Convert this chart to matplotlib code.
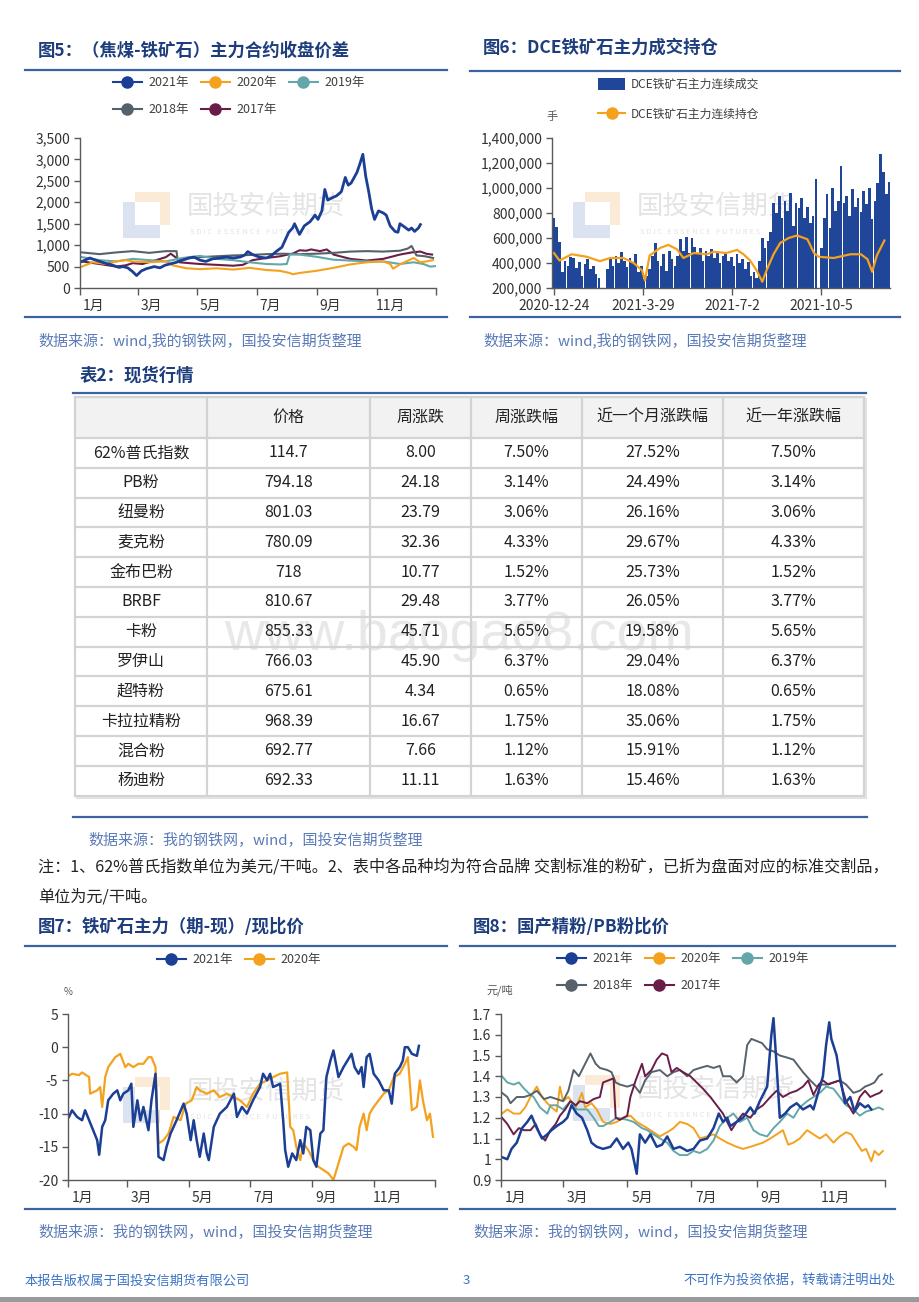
import numpy as np
import matplotlib
matplotlib.use("Agg")
import matplotlib.pyplot as plt
from matplotlib.lines import Line2D
from matplotlib.patches import Rectangle
from matplotlib.ticker import FuncFormatter

plt.rcParams['font.family'] = ['Noto Sans CJK SC', 'DejaVu Sans']
plt.rcParams['axes.unicode_minus'] = False

# ---------------- data ----------------
month_edges = [0, 59, 120, 181, 243, 304, 365]
month_labels = ['1月', '3月', '5月', '7月', '9月', '11月']
year_labels = ['2021年', '2020年', '2019年', '2018年', '2017年']

# fig5: coking coal - iron ore spread (day of year, value)
f5_d21 = [2, 10, 16, 23, 27, 30, 35, 40, 44, 49, 54, 58, 63, 68, 73, 76, 82, 87, 92, 99,
          105, 112, 117, 123, 129, 136, 143, 150, 157, 164, 169, 172, 177, 184, 191, 196, 201, 207, 210, 212,
          214, 218, 220, 223, 225, 230, 236, 241, 244, 248, 251, 254, 258, 263, 268, 272, 275, 278, 284, 287,
          290, 293, 296, 299, 302, 306, 311, 314, 318, 323, 326, 328, 333, 337, 340, 343, 347, 349]
f5_v21 = [620, 700, 650, 600, 570, 560, 520, 480, 500, 470, 380, 290, 400, 450, 480, 500, 470, 530, 560, 600,
          650, 700, 720, 650, 620, 680, 700, 720, 700, 720, 770, 850, 780, 720, 700, 750, 850, 950, 1100, 1200,
          1300, 1400, 1500, 1350, 1250, 1450, 1550, 1700, 1600, 1800, 2300, 2050, 2100, 2150, 2250, 2580, 2400, 2450, 2700, 2900,
          3120, 2600, 2250, 1850, 1600, 1800, 1750, 1700, 1450, 1320, 1300, 1500, 1420, 1350, 1400, 1320, 1400, 1480]
f5_d20 = [2, 13, 27, 37, 47, 54, 71, 88, 95, 109, 123, 140, 157, 174, 191, 205, 215, 218, 225, 242,
          260, 277, 294, 311, 318, 321, 328, 342, 349, 355, 362]
f5_v20 = [500, 600, 560, 620, 650, 620, 600, 620, 530, 460, 440, 460, 430, 470, 420, 400, 350, 320, 350, 400,
          470, 550, 600, 620, 560, 450, 550, 700, 600, 620, 650]
f5_d19 = [2, 20, 37, 54, 71, 88, 105, 123, 140, 157, 174, 191, 205, 212, 215, 225, 242, 260, 277, 294,
          311, 328, 342, 352, 359, 364]
f5_v19 = [720, 650, 620, 680, 650, 620, 700, 750, 680, 650, 600, 560, 550, 560, 780, 780, 730, 660, 640, 620,
          620, 560, 600, 560, 500, 510]
f5_d18 = [2, 20, 37, 54, 71, 88, 99, 100, 109, 123, 140, 157, 174, 191, 208, 225, 242, 260, 277, 294,
          311, 328, 336, 340, 345, 354, 362]
f5_v18 = [830, 790, 830, 860, 820, 860, 860, 660, 700, 720, 740, 760, 770, 790, 800, 790, 800, 820, 850, 860,
          850, 870, 920, 980, 760, 740, 700]
f5_d17 = [2, 20, 37, 47, 54, 64, 78, 88, 93, 99, 102, 112, 123, 140, 157, 167, 177, 191, 205, 213,
          218, 225, 232, 237, 246, 253, 260, 277, 294, 311, 328, 340, 349, 355, 361]
f5_v17 = [620, 560, 500, 530, 580, 560, 650, 720, 800, 700, 600, 580, 560, 540, 520, 540, 650, 700, 740, 780,
          800, 880, 870, 900, 860, 900, 780, 680, 640, 680, 780, 830, 850, 800, 780]

# fig6: DCE iron ore volume / open interest (days from 2020-12-24, thousand lots)
f6_ticks = [0, 95, 190, 285]
f6_tick_labels = ['2020-12-24', '2021-3-29', '2021-7-2', '2021-10-5']
f6_vol = [760, 690, 570, 330, 420, 380, 450, 440, 360, 410,
          300, 390, 430, 350, 380, 310, 280, 0, 0, 350,
          430, 380, 460, 400, 490, 420, 370, 440, 400, 470,
          330, 380, 270, 300, 350, 460, 560, 420, 380, 470,
          340, 500, 430, 380, 460, 590, 500, 610, 480, 600,
          530, 470, 520, 420, 500, 460, 510, 440, 480, 400,
          460, 490, 420, 450, 380, 470, 400, 430, 350, 410,
          300, 330, 280, 420, 600, 520, 580, 650, 880, 800,
          940, 760, 900, 820, 960, 700, 880, 840, 920, 760,
          850, 720, 780, 1070, 0, 520, 760, 950, 680, 1000,
          820, 900, 1175, 880, 940, 780, 990, 850, 920, 810,
          980, 870, 1000, 750, 900, 1040, 1270, 1130, 950, 1050]
f6_vol_day = np.arange(0, 360, 3)
f6_oi_day = [0, 6, 19, 35, 49, 60, 74, 85, 94, 97, 102, 113, 122, 131, 138, 149, 163, 170, 184, 195,
             202, 209, 216, 222, 227, 234, 241, 250, 259, 270, 277, 282, 298, 316, 327, 334, 339, 344, 352]
f6_oi = [480, 420, 470, 450, 415, 440, 440, 400, 340, 260, 460, 520, 545, 510, 440, 480, 470, 490, 480, 505,
         470, 420, 340, 250, 350, 470, 560, 600, 620, 590, 480, 450, 440, 470, 470, 430, 330, 460, 580]

# table 2
tbl_header = ['', '价格', '周涨跌', '周涨跌幅', '近一个月涨跌幅', '近一年涨跌幅']
tbl_names = ['62%普氏指数', 'PB粉', '纽曼粉', '麦克粉', '金布巴粉', 'BRBF', '卡粉', '罗伊山',
             '超特粉', '卡拉拉精粉', '混合粉', '杨迪粉']
tbl_price = ['114.7', '794.18', '801.03', '780.09', '718', '810.67', '855.33', '766.03',
             '675.61', '968.39', '692.77', '692.33']
tbl_wk = ['8.00', '24.18', '23.79', '32.36', '10.77', '29.48', '45.71', '45.90',
          '4.34', '16.67', '7.66', '11.11']
tbl_wk_pct = ['7.50%', '3.14%', '3.06%', '4.33%', '1.52%', '3.77%', '5.65%', '6.37%',
              '0.65%', '1.75%', '1.12%', '1.63%']
tbl_mo_pct = ['27.52%', '24.49%', '26.16%', '29.67%', '25.73%', '26.05%', '19.58%', '29.04%',
              '18.08%', '35.06%', '15.91%', '15.46%']
tbl_yr_pct = ['7.50%', '3.14%', '3.06%', '4.33%', '1.52%', '3.77%', '5.65%', '6.37%',
              '0.65%', '1.75%', '1.12%', '1.63%']

# fig7: (futures - spot) / spot, %
f7_d21 = [1, 4, 9, 14, 17, 21, 25, 29, 31, 34, 37, 40, 45, 49, 52, 55, 60, 63, 65, 69,
          72, 75, 80, 83, 87, 90, 95, 98, 102, 105, 108, 115, 118, 122, 125, 128, 131, 135, 138, 140,
          145, 151, 158, 165, 168, 173, 178, 184, 191, 194, 198, 201, 204, 211, 214, 216, 219, 223, 227, 231,
          234, 237, 241, 244, 247, 251, 254, 257, 261, 264, 269, 274, 282, 285, 289, 292, 294, 297, 300, 304,
          309, 314, 319, 322, 325, 330, 333, 335, 338, 342, 347, 349]
f7_v21 = [-10.5, -9.5, -10.5, -11, -9.5, -11, -12.5, -14, -16.2, -12, -11, -8, -7, -6.5, -8, -7, -6.5, -5.5, -12, -8,
          -11, -9, -12.5, -8, -4, -16.5, -17, -15, -13, -12, -11, -8.5, -10, -14, -11, -14, -16.5, -13, -16, -17,
          -12, -10, -9, -7, -10.5, -9, -10, -8, -6, -4, -5, -4, -6, -5.5, -11, -15.5, -18, -16, -17, -14,
          -16, -12, -12.5, -17, -18, -13, -12.5, -4.5, -2, -0.5, -4.5, -3, -1, -3, -4, -3, -6, -1.5, -1, -4,
          -5, -6.5, -6.5, -8.5, -4, -3, -2, 0, 0, -1, -1.3, 0.2]
f7_d20 = [1, 4, 11, 14, 21, 22, 29, 32, 34, 37, 40, 47, 52, 57, 60, 65, 70, 75, 80, 83,
          87, 90, 95, 100, 105, 112, 117, 123, 128, 131, 138, 145, 151, 158, 165, 171, 178, 184, 191, 198,
          204, 211, 218, 221, 224, 227, 231, 234, 239, 244, 249, 254, 259, 264, 269, 274, 279, 284, 287, 290,
          294, 297, 300, 304, 309, 314, 319, 324, 330, 335, 338, 342, 347, 350, 353, 357, 360, 363]
f7_v20 = [-4.3, -4, -4.2, -3.8, -4.5, -7, -6.5, -6, -9, -4.5, -3, -1.5, -1, -3, -2.5, -3, -2.5, -2.5, -1.5, -1.5,
          -3, -14.5, -14, -13, -10.5, -11, -8.5, -8, -6, -6.5, -7, -6.5, -7.5, -7, -7.5, -8, -9, -7, -5.5, -5,
          -4.5, -4, -3.8, -12, -12.5, -15, -17, -14.5, -15.5, -17, -18, -18.5, -19, -20, -17.5, -15, -14.5, -15, -15.5, -12,
          -10, -12.5, -10, -9, -8, -7, -6.5, -4.5, -4, -2.5, -1.5, -9.5, -9, -5, -8, -11, -10, -13.5]

# fig8: domestic concentrate / PB fines price ratio
f8_d21 = [1, 6, 10, 15, 20, 25, 29, 34, 39, 44, 48, 53, 59, 63, 67, 72, 77, 82, 86, 91,
          97, 104, 110, 116, 121, 124, 129, 132, 137, 142, 148, 153, 158, 164, 170, 177, 183, 189, 196, 202,
          207, 211, 215, 218, 224, 230, 237, 241, 246, 253, 257, 259, 262, 265, 270, 275, 281, 287, 294, 297,
          302, 306, 309, 312, 314, 319, 322, 327, 332, 336, 341, 346, 349, 352]
f8_v21 = [1.01, 1.00, 1.05, 1.08, 1.15, 1.18, 1.21, 1.15, 1.10, 1.12, 1.14, 1.16, 1.18, 1.20, 1.26, 1.22, 1.20, 1.14, 1.08, 1.06,
          1.05, 1.06, 1.10, 1.05, 1.08, 1.05, 0.93, 1.12, 1.08, 1.12, 1.06, 1.07, 1.11, 1.05, 1.06, 1.04, 1.05, 1.09, 1.10, 1.15,
          1.22, 1.18, 1.20, 1.16, 1.18, 1.20, 1.25, 1.22, 1.28, 1.35, 1.60, 1.68, 1.45, 1.20, 1.22, 1.25, 1.27, 1.24, 1.26, 1.24,
          1.33, 1.40, 1.55, 1.66, 1.58, 1.50, 1.40, 1.27, 1.30, 1.23, 1.27, 1.25, 1.26, 1.24]
f8_d20 = [1, 6, 12, 18, 23, 28, 34, 39, 44, 48, 53, 56, 59, 64, 71, 77, 80, 86, 91, 97,
          104, 110, 116, 123, 129, 139, 145, 151, 158, 164, 170, 177, 183, 189, 196, 202, 208, 215, 224, 230,
          237, 243, 249, 256, 262, 268, 273, 278, 284, 291, 297, 303, 309, 316, 322, 328, 333, 338, 343, 347,
          352, 355, 359, 363]
f8_v20 = [1.22, 1.24, 1.22, 1.22, 1.25, 1.30, 1.35, 1.30, 1.27, 1.25, 1.23, 1.35, 1.28, 1.30, 1.25, 1.32, 1.25, 1.27, 1.24, 1.18,
          1.17, 1.18, 1.20, 1.21, 1.18, 1.15, 1.13, 1.11, 1.13, 1.15, 1.18, 1.17, 1.15, 1.10, 1.11, 1.12, 1.10, 1.08, 1.06, 1.05,
          1.06, 1.07, 1.08, 1.10, 1.12, 1.14, 1.07, 1.08, 1.10, 1.14, 1.12, 1.10, 1.12, 1.08, 1.11, 1.13, 1.12, 1.08, 1.04, 1.05,
          0.99, 1.04, 1.02, 1.04]
f8_d19 = [1, 6, 12, 17, 22, 26, 31, 37, 44, 47, 53, 59, 66, 72, 82, 88, 93, 97, 104, 110,
          120, 126, 134, 139, 145, 151, 158, 164, 170, 177, 183, 189, 196, 202, 208, 215, 221, 227, 234, 240,
          246, 253, 259, 265, 272, 278, 284, 291, 297, 303, 309, 316, 322, 328, 335, 341, 347, 354, 359, 363]
f8_v19 = [1.40, 1.37, 1.36, 1.37, 1.34, 1.32, 1.30, 1.25, 1.22, 1.26, 1.26, 1.24, 1.28, 1.24, 1.24, 1.20, 1.16, 1.16, 1.18, 1.20,
          1.19, 1.18, 1.15, 1.14, 1.12, 1.10, 1.08, 1.04, 1.02, 1.02, 1.04, 1.03, 1.05, 1.09, 1.16, 1.20, 1.22, 1.18, 1.20, 1.14,
          1.12, 1.11, 1.15, 1.18, 1.22, 1.20, 1.25, 1.28, 1.30, 1.32, 1.35, 1.34, 1.30, 1.26, 1.24, 1.21, 1.23, 1.24, 1.25, 1.24]
f8_d18 = [1, 6, 9, 15, 22, 28, 34, 41, 47, 53, 59, 64, 69, 74, 78, 85, 90, 94, 101, 105,
          109, 113, 120, 126, 132, 137, 143, 151, 158, 164, 170, 177, 183, 189, 196, 202, 208, 211, 218, 224,
          230, 234, 238, 243, 248, 253, 259, 265, 272, 278, 281, 287, 294, 300, 305, 309, 316, 322, 328, 335,
          341, 346, 351, 355, 359, 362]
f8_v18 = [1.32, 1.30, 1.27, 1.30, 1.30, 1.31, 1.33, 1.29, 1.30, 1.29, 1.28, 1.33, 1.43, 1.40, 1.44, 1.51, 1.46, 1.44, 1.43, 1.42,
          1.37, 1.36, 1.35, 1.36, 1.32, 1.38, 1.42, 1.43, 1.40, 1.42, 1.43, 1.40, 1.43, 1.44, 1.45, 1.44, 1.45, 1.40, 1.40, 1.37,
          1.40, 1.55, 1.58, 1.57, 1.56, 1.53, 1.52, 1.50, 1.49, 1.48, 1.46, 1.42, 1.38, 1.35, 1.36, 1.36, 1.37, 1.38, 1.36, 1.32,
          1.33, 1.35, 1.36, 1.37, 1.40, 1.41]
f8_d17 = [1, 6, 12, 17, 22, 28, 33, 37, 42, 47, 52, 56, 61, 66, 71, 75, 82, 88, 94, 97,
          102, 107, 109, 113, 120, 123, 128, 134, 137, 143, 148, 153, 158, 162, 167, 173, 180, 186, 192, 199,
          205, 211, 215, 219, 224, 230, 237, 243, 249, 256, 262, 268, 275, 281, 287, 292, 297, 302, 306, 311,
          316, 322, 328, 335, 341, 346, 351, 355, 360, 362]
f8_v17 = [1.20, 1.17, 1.12, 1.15, 1.14, 1.14, 1.17, 1.12, 1.09, 1.14, 1.17, 1.21, 1.24, 1.28, 1.26, 1.28, 1.27, 1.29, 1.30, 1.37,
          1.38, 1.39, 1.20, 1.19, 1.21, 1.30, 1.38, 1.46, 1.40, 1.43, 1.48, 1.51, 1.50, 1.42, 1.44, 1.42, 1.40, 1.37, 1.34, 1.30,
          1.26, 1.22, 1.18, 1.14, 1.18, 1.22, 1.20, 1.24, 1.26, 1.30, 1.33, 1.30, 1.32, 1.33, 1.35, 1.38, 1.31, 1.36, 1.38, 1.36,
          1.37, 1.38, 1.28, 1.22, 1.30, 1.33, 1.30, 1.31, 1.32, 1.33]

# ---------------- style ----------------
C21 = '#1b3f94'
C20 = '#f4a21d'
C19 = '#63a7aa'
C18 = '#56626b'
C17 = '#6a1e47'
BAR_C = '#1f4699'
TITLE_C = '#1d3d7c'
RULE_C = '#3b62a3'
SRC_C = '#5a7bb8'
AX_C = '#5a5a5a'
year_colors = [C21, C20, C19, C18, C17]

W, H = 920, 1302
fig = plt.figure(figsize=(W / 100, H / 100), dpi=100)


def px_ax(l, t, r, b):
    ax = fig.add_axes([l / W, 1 - b / H, (r - l) / W, (b - t) / H])
    ax.patch.set_alpha(0)
    return ax


def ftext(x, y, s, **kw):
    return fig.text(x / W, 1 - y / H, s, **kw)


def rule(x0, x1, y, color=RULE_C, lw=1.6):
    fig.add_artist(Line2D([x0 / W, x1 / W], [1 - y / H, 1 - y / H], color=color, lw=lw))


def frect(l, t, w, h, c, z=-5):
    fig.add_artist(Rectangle((l / W, 1 - (t + h) / H), w / W, h / H, transform=fig.transFigure,
                             facecolor=c, lw=0, zorder=z))


def watermark(x, y):
    frect(x + 12, y, 35, 33, '#fbead6')
    frect(x, y + 10, 37, 36, '#dae3ef')
    frect(x + 12, y + 10, 25, 23, 'white')
    ftext(x + 64, y + 14, '国投安信期货', fontsize=19, color='#e4e4e4', va='center', zorder=-4)
    ftext(x + 67, y + 40, 'S D I C   E S S E N C E   F U T U R E S', fontsize=5.5,
          color='#e4e4e4', va='center', zorder=-4)


def section(x, y, title, x0, x1, y1, y2, src, ysrc):
    ftext(x, y, title, fontsize=12.5, fontweight='bold', color=TITLE_C, va='center')
    rule(x0, x1, y1)
    rule(x0, x1, y2)
    ftext(x, ysrc, src, fontsize=10.8, color=SRC_C, va='center')


def style(ax):
    ax.spines['top'].set_visible(False)
    ax.spines['right'].set_visible(False)
    for s in ('left', 'bottom'):
        ax.spines[s].set_color(AX_C)
        ax.spines[s].set_linewidth(1.0)
    ax.tick_params(axis='both', which='both', colors=AX_C, labelcolor='#333333', labelsize=10, width=1.0)
    ax.tick_params(axis='y', length=4, pad=3)


def month_axis(ax):
    ax.set_xlim(0, 365)
    ax.set_xticks(month_edges)
    ax.set_xticklabels([])
    ax.set_xticks([m + 14 for m in month_edges[:-1]], minor=True)
    ax.set_xticklabels(month_labels, minor=True)
    ax.tick_params(axis='x', which='major', length=5)
    ax.tick_params(axis='x', which='minor', length=0, pad=8)


def year_legend(ax, x, y, n):
    hs = [Line2D([], [], color=c, lw=1.5, marker='o', markersize=8) for c in year_colors[:n]]
    labs = year_labels[:n]
    if n == 5:
        order = [0, 3, 1, 4, 2]
        hs = [hs[i] for i in order]
        labs = [labs[i] for i in order]
    ax.legend(hs, labs, ncol=3 if n == 5 else 2, loc='upper left', bbox_to_anchor=(x / W, 1 - y / H),
              bbox_transform=fig.transFigure, frameon=False, fontsize=9, handlelength=2.3,
              handletextpad=0.5, columnspacing=1.0, labelspacing=1.15, borderpad=0, borderaxespad=0,
              labelcolor='#404040')


comma = FuncFormatter(lambda v, p: f'{v:,.0f}')

# ---------------- fig5 ----------------
section(38, 51, '图5：（焦煤-铁矿石）主力合约收盘价差', 25, 447, 70, 317,
        '数据来源：wind,我的钢铁网，国投安信期货整理', 340)
watermark(123, 192)
ax5 = px_ax(80, 138, 436, 288)
style(ax5)
for d, v, c in [(f5_d17, f5_v17, C17), (f5_d18, f5_v18, C18), (f5_d19, f5_v19, C19),
                (f5_d20, f5_v20, C20), (f5_d21, f5_v21, C21)]:
    ax5.plot(d, v, color=c, lw=2.0 if c == C21 else 1.5)
ax5.set_ylim(0, 3500)
ax5.set_yticks(np.arange(0, 3501, 500))
ax5.yaxis.set_major_formatter(comma)
month_axis(ax5)
year_legend(ax5, 113, 76, 5)

# ---------------- fig6 ----------------
section(483, 48, '图6：DCE铁矿石主力成交持仓', 470, 900, 71, 317,
        '数据来源：wind,我的钢铁网，国投安信期货整理', 340)
watermark(573, 192)
ax6 = px_ax(552, 138, 890, 288)
style(ax6)
ax6.bar(f6_vol_day, np.array(f6_vol) * 1000, width=2.8, color=BAR_C, lw=0)
ax6.plot(f6_oi_day, np.array(f6_oi) * 1000, color=C20, lw=1.6)
ax6.set_ylim(200000, 1400000)
ax6.set_xlim(-2, 358)
ax6.set_yticks(np.arange(200000, 1400001, 200000))
ax6.yaxis.set_major_formatter(comma)
ax6.set_xticks(f6_ticks)
ax6.set_xticklabels(f6_tick_labels)
ax6.tick_params(axis='x', length=5, pad=3)
ftext(552, 117, '手', fontsize=8, color='#555555', ha='center', va='center')
h_bar = Rectangle((0, 0), 1, 1, facecolor=BAR_C, lw=0)
h_line = Line2D([], [], color=C20, lw=1.5, marker='o', markersize=8)
ax6.legend([h_bar, h_line], ['DCE铁矿石主力连续成交', 'DCE铁矿石主力连续持仓'], loc='upper left',
           bbox_to_anchor=(598 / W, 1 - 78 / H), bbox_transform=fig.transFigure, frameon=False,
           fontsize=8.5, handlelength=2.3, handleheight=1.2, handletextpad=0.5, labelspacing=1.4,
           borderpad=0, borderaxespad=0, labelcolor='#404040')

# ---------------- table ----------------
ftext(80, 376, '表2：现货行情', fontsize=12.5, fontweight='bold', color=TITLE_C, va='center')
rule(73, 866, 393)
ftext(459, 636, 'www.baogao8.com', fontsize=40, family='Liberation Sans', color='#e8e8e8',
      ha='center', va='center', zorder=-4)
col_edges = [75, 207, 370, 471, 582, 723, 864]
row_edges = [397, 438] + [438 + 29.8 * (i + 1) for i in range(len(tbl_names))]
axt = px_ax(0, 0, W, H)
axt.set_xlim(0, W)
axt.set_ylim(H, 0)
axt.axis('off')
axt.add_patch(Rectangle((col_edges[0], row_edges[0]), col_edges[-1] - col_edges[0],
                        row_edges[1] - row_edges[0], facecolor='#f2f2f2', lw=0, zorder=0))
for y in row_edges:
    axt.plot([col_edges[0], col_edges[-1]], [y, y], color='#d3d3d3', lw=1.6)
for x in col_edges:
    axt.plot([x, x], [row_edges[0], row_edges[-1]], color='#d3d3d3', lw=1.6)
axt.plot([col_edges[0] + 2, col_edges[-1] + 2], [row_edges[-1] + 2] * 2, color='#e2e2e2', lw=1.5)
axt.plot([col_edges[-1] + 2] * 2, [row_edges[0] + 2, row_edges[-1] + 2], color='#e2e2e2', lw=1.5)
for j, h in enumerate(tbl_header):
    xc = (col_edges[j] + col_edges[j + 1]) / 2
    axt.text(xc, (row_edges[0] + row_edges[1]) / 2, h, ha='center', va='center', fontsize=11.5, color='#222222')
cols = [tbl_names, tbl_price, tbl_wk, tbl_wk_pct, tbl_mo_pct, tbl_yr_pct]
for i in range(len(tbl_names)):
    yc = (row_edges[i + 1] + row_edges[i + 2]) / 2
    for j, col in enumerate(cols):
        xc = (col_edges[j] + col_edges[j + 1]) / 2
        axt.text(xc, yc, col[i], ha='center', va='center', fontsize=11.5, color='#222222')
rule(73, 867, 817)
ftext(88, 840, '数据来源：我的钢铁网，wind，国投安信期货整理', fontsize=10.8, color=SRC_C, va='center')
ftext(38, 867, '注：1、62%普氏指数单位为美元/干吨。2、表中各品种均为符合品牌 交割标准的粉矿，已折为盘面对应的标准交割品，',
      fontsize=11.6, color='#222222', va='center')
ftext(38, 897, '单位为元/干吨。', fontsize=11.6, color='#222222', va='center')

# ---------------- fig7 ----------------
section(38, 927, '图7：铁矿石主力（期-现）/现比价', 25, 447, 946, 1209,
        '数据来源：我的钢铁网，wind，国投安信期货整理', 1232)
watermark(123, 1077)
ax7 = px_ax(68, 1014, 435, 1180)
style(ax7)
ax7.plot(f7_d20, f7_v20, color=C20, lw=1.6)
ax7.plot(f7_d21, f7_v21, color=C21, lw=1.8)
ax7.set_ylim(-20, 5)
ax7.set_yticks(np.arange(-20, 6, 5))
month_axis(ax7)
ftext(68, 992, '%', fontsize=7, color='#555555', ha='center', va='center')
year_legend(ax7, 157, 953, 2)

# ---------------- fig8 ----------------
section(473, 927, '图8：国产精粉/PB粉比价', 460, 895, 946, 1209,
        '数据来源：我的钢铁网，wind，国投安信期货整理', 1232)
watermark(573, 1075)
ax8 = px_ax(501, 1014, 885, 1180)
style(ax8)
for d, v, c in [(f8_d20, f8_v20, C20), (f8_d19, f8_v19, C19), (f8_d18, f8_v18, C18),
                (f8_d17, f8_v17, C17), (f8_d21, f8_v21, C21)]:
    ax8.plot(d, v, color=c, lw=1.8 if c == C21 else 1.4)
ax8.set_ylim(0.9, 1.7)
ax8.set_yticks(np.arange(0.9, 1.71, 0.1))
ax8.yaxis.set_major_formatter(FuncFormatter(lambda v, p: f'{v:g}'))
month_axis(ax8)
ftext(500, 990, '元/吨', fontsize=8, color='#555555', ha='center', va='center')
year_legend(ax8, 557, 952, 5)

# ---------------- footer ----------------
ftext(25, 1281, '本报告版权属于国投安信期货有限公司', fontsize=9.5, color='#3b73c5', va='center')
ftext(466, 1281, '3', fontsize=9.5, color='#3b73c5', va='center', ha='center')
ftext(895, 1281, '不可作为投资依据，转载请注明出处', fontsize=9.5, color='#3b73c5', va='center', ha='right')
frect(0, 1297, W, 5, '#9a9a9a', z=1)

fig.savefig('out.png', dpi=100)
